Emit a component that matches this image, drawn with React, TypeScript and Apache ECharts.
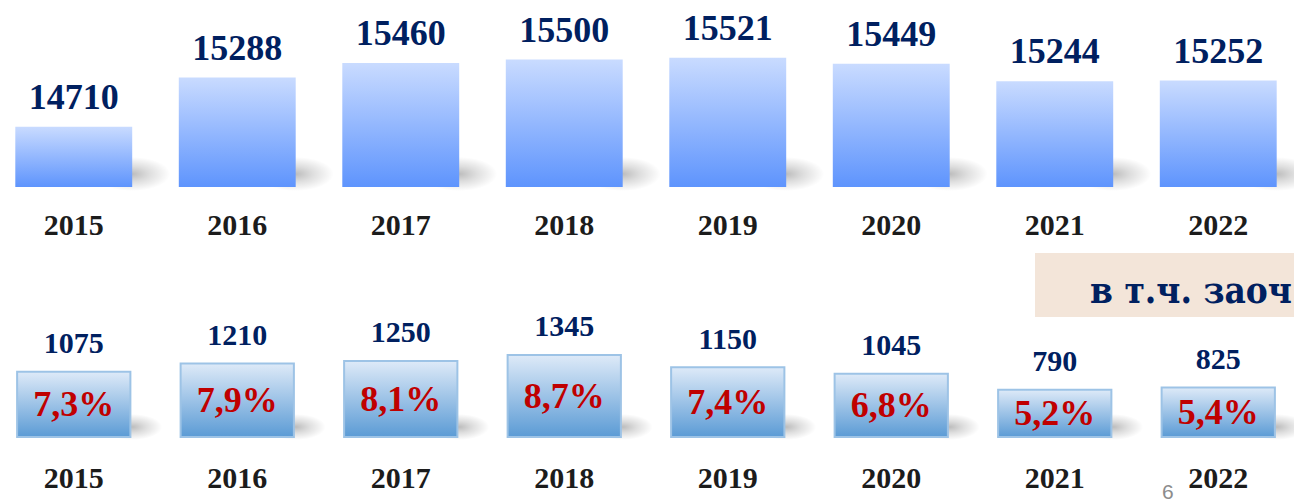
import React, { useEffect, useRef } from "react";
import * as echarts from "echarts";

const years = ["2015", "2016", "2017", "2018", "2019", "2020", "2021", "2022"];
const totalValues = [14710, 15288, 15460, 15500, 15521, 15449, 15244, 15252];
const partValues = [1075, 1210, 1250, 1345, 1150, 1045, 790, 825];
const shareLabels = ["7,3%", "7,9%", "8,1%", "8,7%", "7,4%", "6,8%", "5,2%", "5,4%"];
const boxTitle = "в т.ч. заоч";
const pageNumber = "6";

const SERIF = "'Liberation Serif', 'Times New Roman', serif";
const NAVY = "#002060";
const SHIFT = 8; // chart div starts 8px left of the page

function shadowRenderer(baseValue: number, widthRatio: number, rx: number, ry: number, dx: number, dy: number) {
  return (params: any, api: any) => {
    const idx = api.value(0);
    const base = api.coord([idx, baseValue]);
    const w = api.size([1, 0])[0] * widthRatio;
    const xr = base[0] + w / 2;
    const yb = base[1];
    return {
      type: "ellipse",
      shape: { cx: xr + dx, cy: yb - dy, rx, ry },
      style: {
        fill: new echarts.graphic.RadialGradient(0.5, 0.5, 0.5, [
          { offset: 0, color: "rgba(0,0,0,0.26)" },
          { offset: 0.45, color: "rgba(0,0,0,0.13)" },
          { offset: 1, color: "rgba(0,0,0,0)" },
        ]),
      },
    };
  };
}

export default function App() {
  const ref = useRef<HTMLDivElement>(null);

  useEffect(() => {
    if (!ref.current) return;
    const chart = echarts.init(ref.current, null, { renderer: "svg" });
    const catLabel = {
      fontSize: 30,
      fontWeight: "bold" as const,
      fontFamily: SERIF,
      color: "#1c1c1c",
    };
    chart.setOption({
      animation: false,
      grid: [
        { left: 0, right: 0, top: 17, height: 170 },
        { left: 0, right: 0, top: 313, height: 125 },
      ],
      xAxis: [
        {
          type: "category",
          gridIndex: 0,
          data: years,
          axisLine: { show: false },
          axisTick: { show: false },
          axisLabel: { ...catLabel, margin: 22 },
        },
        {
          type: "category",
          gridIndex: 1,
          data: years,
          axisLine: { show: false },
          axisTick: { show: false },
          axisLabel: { ...catLabel, margin: 24 },
        },
      ],
      yAxis: [
        { type: "value", gridIndex: 0, min: 14000, max: 16000, show: false },
        { type: "value", gridIndex: 1, min: 0, max: 2000, show: false },
      ],
      series: [
        {
          type: "custom",
          xAxisIndex: 0,
          yAxisIndex: 0,
          z: 1,
          silent: true,
          data: totalValues.map((v, i) => [i, v]),
          renderItem: shadowRenderer(14000, 0.715, 38, 17, 0, 13),
        },
        {
          type: "bar",
          xAxisIndex: 0,
          yAxisIndex: 0,
          z: 2,
          barWidth: "71.5%",
          data: totalValues,
          itemStyle: {
            color: new echarts.graphic.LinearGradient(0, 0, 0, 1, [
              { offset: 0, color: "#c9dbff" },
              { offset: 1, color: "#5e94fd" },
            ]),
          },
          label: {
            show: true,
            position: "top",
            distance: 12,
            fontSize: 36,
            fontWeight: "bold",
            fontFamily: SERIF,
            color: NAVY,
          },
        },
        {
          type: "custom",
          xAxisIndex: 1,
          yAxisIndex: 1,
          z: 1,
          silent: true,
          data: partValues.map((v, i) => [i, v]),
          renderItem: shadowRenderer(0, 0.715, 30, 13, 0, 11),
        },
        {
          type: "bar",
          xAxisIndex: 1,
          yAxisIndex: 1,
          z: 2,
          barWidth: "70.5%",
          barGap: "-100%",
          data: partValues,
          itemStyle: {
            color: new echarts.graphic.LinearGradient(0, 0, 0, 1, [
              { offset: 0, color: "#deeaf8" },
              { offset: 1, color: "#5b9bd5" },
            ]),
            borderColor: "#9dc3e6",
            borderWidth: 2,
          },
          label: {
            show: true,
            position: "top",
            distance: 13,
            fontSize: 30,
            fontWeight: "bold",
            fontFamily: SERIF,
            color: NAVY,
          },
        },
        {
          type: "bar",
          xAxisIndex: 1,
          yAxisIndex: 1,
          z: 3,
          barWidth: "70.5%",
          barGap: "-100%",
          data: partValues,
          itemStyle: { color: "rgba(0,0,0,0)" },
          label: {
            show: true,
            position: "inside",
            formatter: (p: any) => shareLabels[p.dataIndex],
            fontSize: 36,
            fontWeight: "bold",
            fontFamily: SERIF,
            color: "#c00000",
          },
        },
      ],
      graphic: [
        {
          type: "rect",
          x: 1035 + SHIFT,
          y: 253,
          shape: { width: 270, height: 64 },
          style: { fill: "#f3e5d9" },
          z: 0,
        },
        {
          type: "text",
          x: 1090 + SHIFT,
          y: 290,
          scaleY: 1.15,
          style: {
            text: boxTitle,
            font: "bold 33px 'DejaVu Serif'",
            fill: NAVY,
            verticalAlign: "middle",
          },
          z: 1,
        },
        {
          type: "text",
          x: 1162 + SHIFT,
          y: 481,
          style: {
            text: pageNumber,
            font: "21px 'Liberation Sans'",
            fill: "#8c8c8c",
            verticalAlign: "top",
          },
          z: 1,
        },
      ],
    });
    return () => chart.dispose();
  }, []);

  return (
    <div
      ref={ref}
      style={{ position: "absolute", left: -SHIFT, top: 0, width: 1294 + 2 * SHIFT - 2, height: 504 }}
    />
  );
}
